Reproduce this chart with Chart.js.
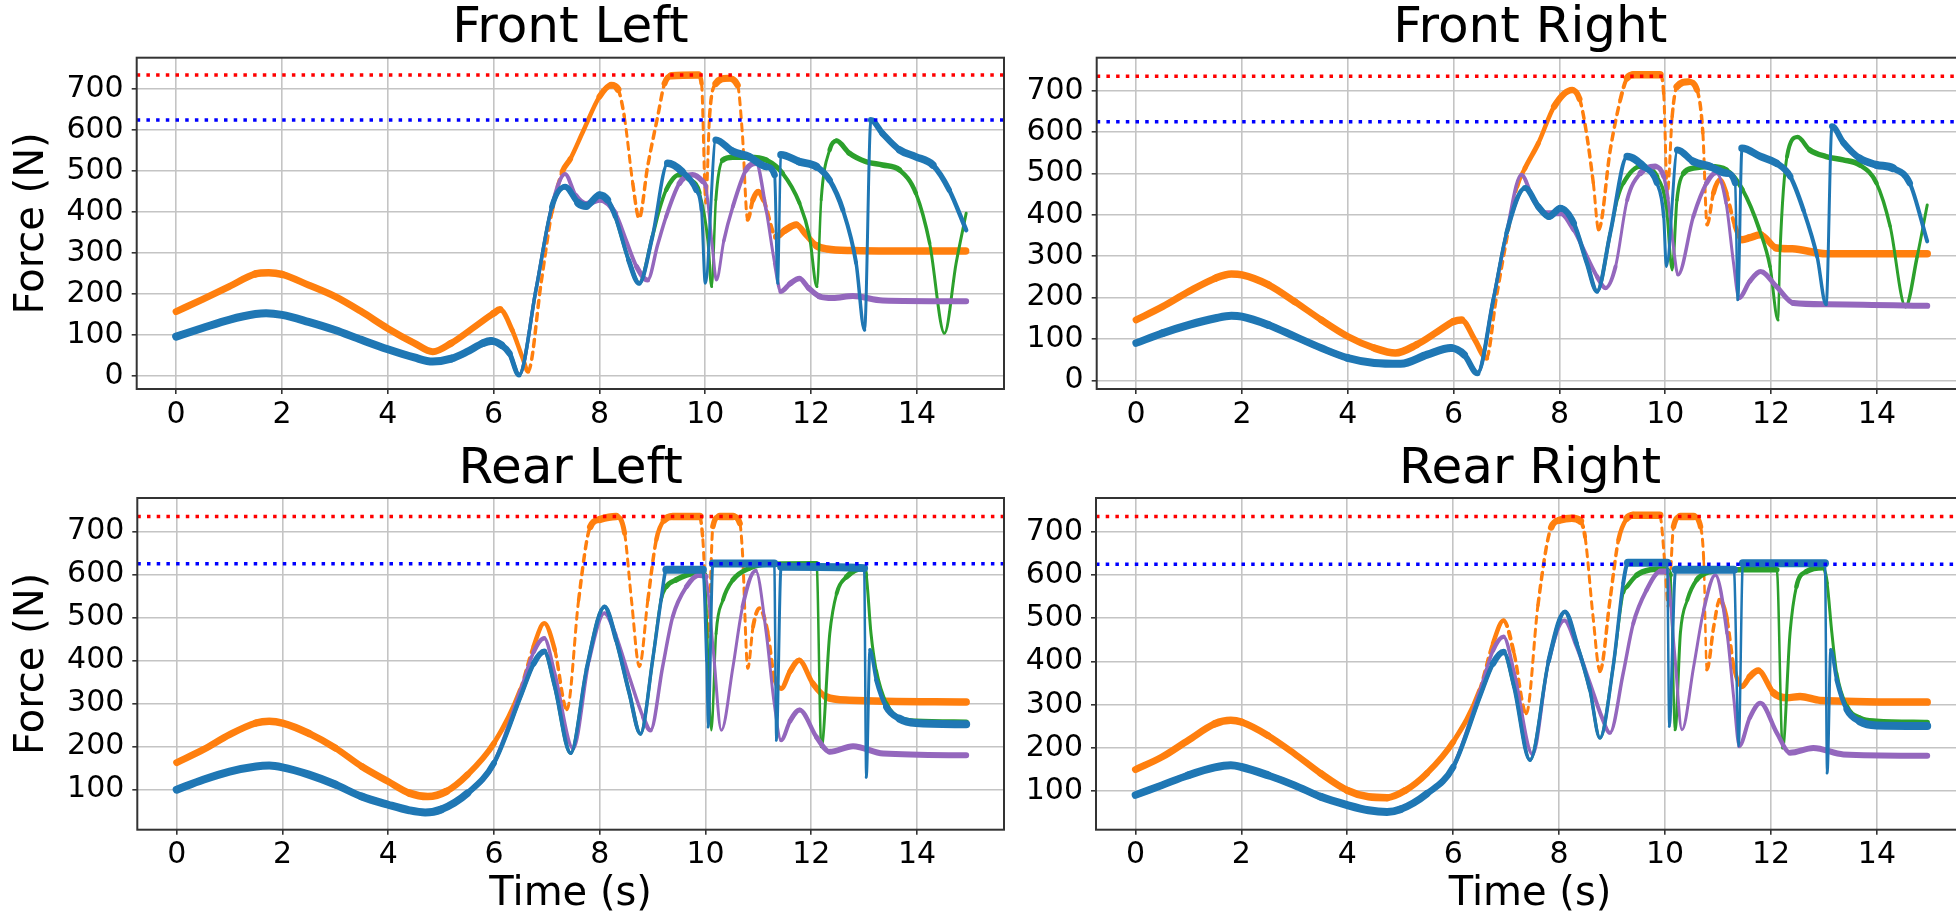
<!DOCTYPE html>
<html>
<head>
<meta charset="utf-8">
<script src="https://cdn.jsdelivr.net/npm/chart.js@4/dist/chart.umd.min.js"></script>
<style>
  html, body { margin: 0; padding: 0; background: #ffffff; overflow: hidden; width: 1956px; height: 917px; }
  .panel { position: absolute; }
  canvas { display: block; }
</style>
</head>
<body>
<div class="panel" id="pFL" style="left:0px;top:0px;"><canvas id="cFL" width="1008" height="457"></canvas></div>
<div class="panel" id="pFR" style="left:1000px;top:0px;"><canvas id="cFR" width="968" height="457"></canvas></div>
<div class="panel" id="pRL" style="left:0px;top:440px;"><canvas id="cRL" width="1008" height="477"></canvas></div>
<div class="panel" id="pRR" style="left:1000px;top:440px;"><canvas id="cRR" width="968" height="477"></canvas></div>
<script>
// ---------------- data (time in s, force in N) ----------------
const X_TICKS = [0, 2, 4, 6, 8, 10, 12, 14];
const Y_TICKS = [0, 100, 200, 300, 400, 500, 600, 700];
const RED_LIMIT = 735;
const BLUE_LIMIT = 625;
const TITLES = ['Front Left', 'Front Right', 'Rear Left', 'Rear Right'];
const X_LABEL = 'Time (s)';
const Y_LABEL = 'Force (N)';

// Front Left
const flOrange = [[0,157],[0.5,187],[1,218],[1.5,249],[1.75,252],[2,248],[2.5,222],[3,194],[3.5,157],[4,116],[4.5,80],[4.85,59],[5.2,80],[5.6,116],[6,153],[6.12,162],[6.35,112],[6.55,43],[6.65,11],[6.9,230],[7.1,400],[7.3,499],[7.45,530],[7.7,600],[8,682],[8.22,710],[8.35,700],[8.47,633],[8.63,470],[8.75,385],[8.91,511],[9.1,633],[9.23,714],[9.36,733],[9.87,735],[9.93,714],[10.01,422],[10.08,633],[10.2,714],[10.42,727],[10.61,710],[10.7,593],[10.8,381],[10.9,430],[11,450],[11.1,430],[11.34,340],[11.5,355],[11.72,369],[11.9,345],[12.1,318],[12.3,310],[12.8,306],[13.5,305],[14.92,305]];
const flBlue = [[0,96],[0.5,117],[1,137],[1.5,151],[1.7,153],[2,149],[2.5,132],[3,112],[3.5,88],[4,65],[4.5,45],[4.85,35],[5.2,42],[5.5,59],[5.8,80],[5.95,85],[6.15,75],[6.3,55],[6.48,2],[6.8,210],[7.1,413],[7.35,462],[7.6,422],[7.75,415],[8,442],[8.15,430],[8.3,389],[8.55,283],[8.75,226],[9,340],[9.29,519],[9.56,499],[9.83,454],[9.93,405],[10,226],[10.2,576],[10.52,548],[10.83,535],[11.15,511],[11.31,491],[11.37,226],[11.43,540],[11.78,523],[12.1,511],[12.35,478],[12.6,405],[12.85,276],[13.01,112],[13.13,625],[13.35,592],[13.67,552],[13.98,535],[14.3,515],[14.61,454],[14.93,356]];
const flGreen = [[0,96],[0.5,117],[1,137],[1.5,151],[1.7,153],[2,149],[2.5,132],[3,112],[3.5,88],[4,65],[4.5,45],[4.85,35],[5.2,42],[5.5,59],[5.8,80],[5.95,85],[6.15,75],[6.3,55],[6.48,2],[6.8,210],[7.1,413],[7.35,462],[7.6,422],[7.75,415],[8,442],[8.15,430],[8.3,389],[8.55,283],[8.75,226],[9,340],[9.13,405],[9.26,454],[9.51,491],[9.7,480],[9.89,447],[10.05,330],[10.12,218],[10.2,430],[10.33,527],[10.52,534],[10.83,534],[11.15,527],[11.46,495],[11.78,422],[11.97,340],[12.11,218],[12.19,430],[12.35,552],[12.48,574],[12.72,544],[13.04,523],[13.35,515],[13.67,503],[13.98,446],[14.24,324],[14.52,104],[14.74,275],[14.93,397]];
const flPurple = [[0,96],[0.5,117],[1,137],[1.5,151],[1.7,153],[2,149],[2.5,132],[3,112],[3.5,88],[4,65],[4.5,45],[4.85,35],[5.2,42],[5.5,59],[5.8,80],[5.95,85],[6.15,75],[6.3,55],[6.48,2],[6.8,210],[7.1,413],[7.35,493],[7.55,440],[7.75,420],[8,430],[8.3,397],[8.5,332],[8.7,267],[8.91,234],[9.1,320],[9.26,389],[9.51,470],[9.76,491],[9.95,475],[10.01,462],[10.14,308],[10.21,234],[10.35,330],[10.52,413],[10.77,503],[10.96,519],[11.15,405],[11.31,276],[11.43,206],[11.6,225],[11.78,238],[11.95,215],[12.16,194],[12.41,190],[12.79,195],[13.35,184],[14.93,182]];

// Front Right
const frOrange = [[0,146],[0.5,178],[1,215],[1.5,247],[1.8,257],[2,255],[2.5,231],[3,190],[3.5,146],[4,106],[4.5,78],[4.9,66],[5.3,86],[5.7,118],[6,142],[6.15,146],[6.4,98],[6.62,54],[6.8,195],[7,340],[7.2,469],[7.35,513],[7.6,573],[7.9,662],[8.24,702],[8.38,680],[8.49,614],[8.64,477],[8.74,364],[8.96,557],[9.15,678],[9.28,731],[9.4,739],[9.9,739],[9.97,694],[10.04,453],[10.13,638],[10.22,710],[10.44,722],[10.6,702],[10.71,598],[10.79,376],[10.91,453],[11.03,485],[11.15,453],[11.32,372],[11.45,340],[11.6,345],[11.8,352],[12.1,320],[12.4,318],[13.04,306],[14.95,306]];
const frBlue = [[0,90],[0.5,114],[1,134],[1.5,150],[1.8,156],[2,154],[2.5,134],[3,106],[3.5,78],[4,54],[4.5,42],[5,40],[5.5,62],[5.95,78],[6.2,62],[6.45,17],[6.75,195],[7,356],[7.35,465],[7.6,420],[7.8,396],[8.02,416],[8.27,380],[8.52,283],[8.71,215],[8.96,356],[9.28,541],[9.59,517],[9.84,477],[9.97,396],[10.02,275],[10.23,557],[10.53,529],[10.84,517],[11.15,501],[11.32,477],[11.37,195],[11.45,561],[11.8,541],[12.1,525],[12.36,493],[12.61,412],[12.87,299],[13.04,183],[13.15,614],[13.37,574],[13.67,537],[13.99,521],[14.3,513],[14.62,477],[14.95,336]];
const frGreen = [[0,90],[0.5,114],[1,134],[1.5,150],[1.8,156],[2,154],[2.5,134],[3,106],[3.5,78],[4,54],[4.5,42],[5,40],[5.5,62],[5.95,78],[6.2,62],[6.45,17],[6.75,195],[7,356],[7.35,465],[7.6,420],[7.8,396],[8.02,416],[8.27,380],[8.52,283],[8.71,215],[8.96,356],[9.1,440],[9.21,477],[9.53,517],[9.84,493],[10.02,420],[10.13,267],[10.22,436],[10.35,501],[10.53,513],[10.84,517],[11.15,509],[11.46,461],[11.78,364],[11.98,275],[12.13,146],[12.17,316],[12.3,541],[12.5,588],[12.73,557],[13.04,541],[13.36,533],[13.67,521],[13.99,477],[14.25,372],[14.54,178],[14.76,299],[14.95,424]];
const frPurple = [[0,90],[0.5,114],[1,134],[1.5,150],[1.8,156],[2,154],[2.5,134],[3,106],[3.5,78],[4,54],[4.5,42],[5,40],[5.5,62],[5.95,78],[6.2,62],[6.45,17],[6.75,195],[7,356],[7.28,497],[7.5,440],[7.73,404],[8.02,404],[8.27,364],[8.52,299],[8.71,251],[8.87,223],[9.06,275],[9.28,436],[9.53,501],[9.81,517],[9.97,493],[10.05,440],[10.16,316],[10.24,255],[10.53,396],[10.78,477],[10.96,502],[11.15,428],[11.29,283],[11.39,199],[11.6,240],[11.8,263],[12.1,227],[12.42,187],[13.04,184],[14.95,180]];

// Rear Left
const rlOrange = [[0,163],[0.5,193],[1,228],[1.5,255],[1.75,259],[2,255],[2.5,231],[3,197],[3.5,154],[4,119],[4.4,92],[4.75,84],[5.1,96],[5.5,135],[6,208],[6.5,332],[6.75,433],[6.95,487],[7.15,425],[7.38,286],[7.6,540],[7.82,711],[8,728],[8.31,735],[8.47,696],[8.6,541],[8.75,386],[8.91,541],[9.07,681],[9.22,727],[9.38,735],[9.89,735],[9.95,681],[10.05,455],[10.14,712],[10.27,735],[10.52,735],[10.65,719],[10.7,650],[10.8,382],[10.9,479],[11.02,522],[11.18,463],[11.3,362],[11.43,335],[11.6,375],[11.77,401],[12.03,347],[12.28,316],[12.72,308],[14.93,304]];
const rlBlue = [[0,100],[0.5,123],[1,142],[1.5,154],[1.75,156],[2,152],[2.5,135],[3,112],[3.5,84],[4,65],[4.4,52],[4.7,47],[5,54],[5.5,92],[6,162],[6.5,316],[6.75,393],[6.95,421],[7.15,340],[7.45,185],[7.75,380],[8.09,525],[8.31,448],[8.56,324],[8.77,230],[9,401],[9.16,541],[9.26,611],[9.95,611],[10.02,400],[10.05,246],[10.14,626],[11.3,626],[11.34,215],[11.43,618],[13,615],[13.04,129],[13.11,425],[13.23,355],[13.42,292],[13.67,265],[13.98,255],[14.93,252]];
const rlGreen = [[0,100],[0.5,123],[1,142],[1.5,154],[1.75,156],[2,152],[2.5,135],[3,112],[3.5,84],[4,65],[4.4,52],[4.7,47],[5,54],[5.5,92],[6,162],[6.5,316],[6.75,393],[6.95,421],[7.15,340],[7.45,185],[7.75,380],[8.09,525],[8.31,448],[8.56,324],[8.77,230],[9,401],[9.16,541],[9.26,572],[9.45,588],[9.64,599],[9.89,604],[9.98,600],[10.11,238],[10.2,463],[10.33,541],[10.52,588],[10.83,615],[11.15,624],[12.1,625],[12.19,200],[12.35,463],[12.48,556],[12.67,595],[12.98,615],[13.04,598],[13.13,463],[13.23,376],[13.42,300],[13.67,266],[13.98,259],[14.93,257]];
const rlPurple = [[0,100],[0.5,123],[1,142],[1.5,154],[1.75,156],[2,152],[2.5,135],[3,112],[3.5,84],[4,65],[4.4,52],[4.7,47],[5,54],[5.5,92],[6,162],[6.5,330],[6.75,420],[6.95,452],[7.15,370],[7.5,195],[7.8,400],[8.09,510],[8.3,460],[8.56,362],[8.82,269],[8.96,238],[9.19,386],[9.38,502],[9.64,572],[9.89,599],[10,595],[10.15,420],[10.3,238],[10.52,386],[10.7,525],[10.95,609],[11.15,463],[11.3,300],[11.43,215],[11.6,260],[11.78,285],[12.1,222],[12.35,188],[12.79,201],[13.36,184],[14.93,180]];

// Rear Right
const rrOrange = [[0,150],[0.5,179],[1,218],[1.5,256],[1.8,264],[2,260],[2.5,229],[3,187],[3.5,141],[4,102],[4.4,87],[4.75,85],[5.1,102],[5.5,141],[6,214],[6.5,333],[6.75,441],[6.95,495],[7.15,418],[7.38,279],[7.6,530],[7.85,710],[8.02,727],[8.24,731],[8.4,725],[8.49,688],[8.64,504],[8.77,377],[8.96,542],[9.12,681],[9.28,731],[9.4,738],[9.9,738],[10,619],[10.06,527],[10.16,712],[10.29,735],[10.54,735],[10.67,712],[10.73,635],[10.79,381],[10.92,481],[11.03,542],[11.17,496],[11.3,388],[11.45,342],[11.6,365],[11.76,379],[12.05,327],[12.3,316],[12.55,319],[12.93,310],[14.95,306]];
const rrBlue = [[0,91],[0.5,114],[1,137],[1.5,155],[1.8,160],[2,156],[2.5,137],[3,114],[3.5,87],[4,68],[4.4,56],[4.75,52],[5,58],[5.5,94],[6,156],[6.5,318],[6.75,395],[6.95,422],[7.15,341],[7.45,172],[7.8,400],[8.11,515],[8.33,442],[8.58,335],[8.77,223],[9.02,388],[9.21,581],[9.3,628],[10.04,628],[10.08,250],[10.2,612],[11.3,612],[11.39,204],[11.47,627],[13.02,627],[13.06,142],[13.13,427],[13.24,358],[13.43,289],[13.68,261],[13.99,252],[14.95,251]];
const rrGreen = [[0,91],[0.5,114],[1,137],[1.5,155],[1.8,160],[2,156],[2.5,137],[3,114],[3.5,87],[4,68],[4.4,56],[4.75,52],[5,58],[5.5,94],[6,156],[6.5,318],[6.75,395],[6.95,422],[7.15,341],[7.45,172],[7.8,400],[8.11,515],[8.33,442],[8.58,335],[8.77,223],[9.02,388],[9.21,560],[9.28,573],[9.47,600],[9.72,612],[9.97,614],[10.1,600],[10.19,242],[10.29,466],[10.42,542],[10.6,589],[10.86,608],[11.17,612],[12.11,612],[12.22,200],[12.36,466],[12.48,573],[12.67,608],[12.99,617],[13.06,581],[13.15,466],[13.24,373],[13.43,296],[13.68,269],[13.99,262],[14.95,259]];
const rrPurple = [[0,91],[0.5,114],[1,137],[1.5,155],[1.8,160],[2,156],[2.5,137],[3,114],[3.5,87],[4,68],[4.4,56],[4.75,52],[5,58],[5.5,94],[6,156],[6.5,330],[6.75,425],[6.95,457],[7.15,375],[7.5,185],[7.8,400],[8.1,495],[8.33,435],[8.58,350],[8.8,273],[8.96,235],[9.21,373],[9.4,488],[9.65,565],[9.91,608],[10.03,608],[10.18,420],[10.32,242],[10.54,388],[10.73,519],[10.95,600],[11.17,466],[11.3,312],[11.4,204],[11.6,270],[11.8,304],[12.11,235],[12.36,189],[12.8,200],[13.37,185],[14.95,182]];

// axis limits
const X_MIN = -0.745, X_MAX = 15.645;

// ---------------- chart building ----------------
const FONT = 'DejaVu Sans';
const C_BLUE = '#1f77b4', C_ORANGE = '#ff7f0e', C_GREEN = '#2ca02c', C_PURPLE = '#9467bd';

const panels = [
  { canvas: 'cFL', title: TITLES[0], series: [flBlue, flPurple, flGreen, flOrange], yMin: -32, yMax: 777, yAxisW: 136.7, xAxisH: 68, titlePad: {top: 4.4, bottom: 3.3}, yTitle: true, xTitle: false },
  { canvas: 'cFR', title: TITLES[1], series: [frBlue, frPurple, frGreen, frOrange], yMin: -21, yMax: 780, yAxisW: 96.7, xAxisH: 68, titlePad: {top: 4.4, bottom: 3.3}, yTitle: false, xTitle: false },
  { canvas: 'cRL', title: TITLES[2], series: [rlBlue, rlPurple, rlGreen, rlOrange], yMin: 7, yMax: 778, yAxisW: 137.3, xAxisH: 87.3, titlePad: {top: 5, bottom: 3}, yTitle: true, xTitle: true },
  { canvas: 'cRR', title: TITLES[3], series: [rrBlue, rrPurple, rrGreen, rrOrange], yMin: 11, yMax: 778, yAxisW: 96, xAxisH: 87.3, titlePad: {top: 5, bottom: 3}, yTitle: false, xTitle: true }
];

function cosOf(c) {
  const dx = Math.abs(c.p1.x - c.p0.x), dy = Math.abs(c.p1.y - c.p0.y);
  const len = Math.hypot(dx, dy) || 1;
  return dx / len;
}
function segOpts(noise, dashed) {
  return {
    borderWidth: c => Math.round((2.6 + noise * cosOf(c)) * 2) / 2,
    borderDash: c => (dashed && cosOf(c) < 0.34) ? [7, 6] : []
  };
}
const toXY = arr => arr.map(p => ({ x: p[0], y: p[1] }));

const framePlugin = {
  id: 'frame',
  afterDraw(chart) {
    const { ctx, chartArea: a } = chart;
    ctx.save();
    ctx.strokeStyle = '#333333';
    ctx.lineWidth = 2;
    ctx.strokeRect(a.left, a.top, a.right - a.left, a.bottom - a.top);
    ctx.restore();
  }
};

panels.forEach(p => {
  const [sBlue, sPurple, sGreen, sOrange] = p.series;
  const limitLine = (val, color) => ({
    data: [{ x: X_MIN, y: val }, { x: X_MAX, y: val }],
    borderColor: color, borderWidth: 3.5, borderDash: [3.5, 6.2], borderCapStyle: 'butt',
    pointRadius: 0, tension: 0
  });
  const dataLine = (arr, color, noise, dashed) => ({
    data: toXY(arr),
    borderColor: color, borderWidth: 3, pointRadius: 0,
    cubicInterpolationMode: 'monotone',
    borderCapStyle: 'round', borderJoinStyle: 'round',
    segment: segOpts(noise, dashed)
  });
  new Chart(document.getElementById(p.canvas), {
    type: 'line',
    data: {
      datasets: [
        limitLine(RED_LIMIT, '#ff0000'),
        limitLine(BLUE_LIMIT, '#0000ff'),
        dataLine(sBlue, C_BLUE, 5.5, false),
        dataLine(sPurple, C_PURPLE, 3.5, false),
        dataLine(sGreen, C_GREEN, 3, false),
        dataLine(sOrange, C_ORANGE, 5, true)
      ]
    },
    options: {
      responsive: false,
      animation: false,
      devicePixelRatio: 1,
      layout: { padding: { left: 0, right: 4, top: 0, bottom: 0 } },
      plugins: {
        legend: { display: false },
        tooltip: { enabled: false },
        title: {
          display: true, text: p.title, fullSize: false, color: '#000000',
          font: { family: FONT, size: 50, weight: 'normal', lineHeight: 1 },
          padding: p.titlePad
        }
      },
      scales: {
        x: {
          type: 'linear', min: X_MIN, max: X_MAX,
          afterBuildTicks: s => { s.ticks = X_TICKS.map(v => ({ value: v })); },
          afterFit: s => { s.height = p.xAxisH; },
          ticks: { color: '#000000', font: { family: FONT, size: 30 }, padding: 3, maxRotation: 0, autoSkip: false, callback: v => String(v) },
          grid: { color: '#c4c4c4', lineWidth: 1.6, tickColor: '#333333', tickLength: 5, tickWidth: 1.6 },
          border: { display: false },
          title: { display: p.xTitle, text: X_LABEL, color: '#000000', font: { family: FONT, size: 40, lineHeight: 1.1 }, padding: { top: 0, bottom: 0 } }
        },
        y: {
          type: 'linear', min: p.yMin, max: p.yMax,
          afterBuildTicks: s => { s.ticks = Y_TICKS.filter(v => v >= p.yMin && v <= p.yMax).map(v => ({ value: v })); },
          afterFit: s => { s.width = p.yAxisW; },
          ticks: { color: '#000000', font: { family: FONT, size: 30 }, padding: 8, autoSkip: false, callback: v => String(v) },
          grid: { color: '#c4c4c4', lineWidth: 1.6, tickColor: '#333333', tickLength: 5, tickWidth: 1.6 },
          border: { display: false },
          title: { display: p.yTitle, text: Y_LABEL, color: '#000000', font: { family: FONT, size: 40, lineHeight: 1.2 }, padding: { top: 9, bottom: 0 } }
        }
      }
    },
    plugins: [framePlugin]
  });
});
</script>
</body>
</html>
